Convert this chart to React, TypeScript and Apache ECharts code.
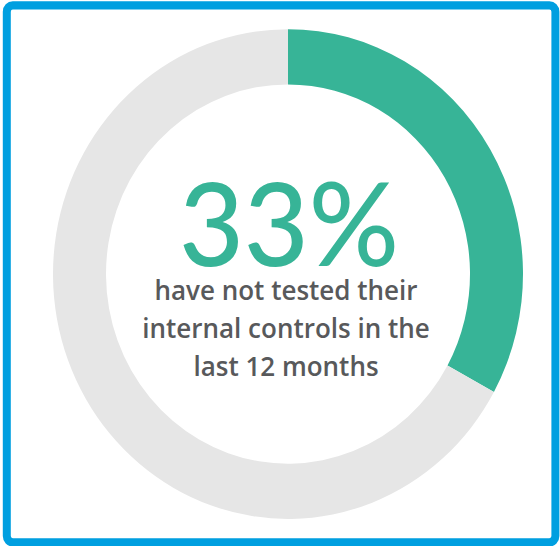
import React, { useEffect, useRef } from "react";
import * as echarts from "echarts";

const categories = ["Not tested in last 12 months", "Tested"];
const values = [33, 67];
const colors = ["#37B497", "#E6E6E6"];
const headline = "33%";
const captionLines = ["have not tested their", "internal controls in the", "last 12 months"];

const W = 560;
const H = 524;
const SCALE_Y = 546 / H;

export default function App() {
  const ref = useRef<HTMLDivElement>(null);
  useEffect(() => {
    if (!ref.current) return;
    const chart = echarts.init(ref.current, undefined, { renderer: "svg" });
    chart.setOption({
      animation: false,
      backgroundColor: "#ffffff",
      series: [
        {
          type: "pie",
          center: [288, 263],
          radius: [182, 235],
          startAngle: 90,
          clockwise: true,
          silent: true,
          label: { show: false },
          labelLine: { show: false },
          emphasis: { disabled: true },
          data: categories.map((c, i) => ({
            name: c,
            value: values[i],
            itemStyle: { color: colors[i] },
          })),
        },
      ],
      graphic: [
        {
          type: "rect",
          shape: { x: 6.8, y: 5.2, width: 548.6, height: 515.3, r: 6 },
          style: { fill: "none", stroke: "#009FE0", lineWidth: 8 },
          silent: true,
        },
        {
          type: "text",
          x: 289,
          y: 212,
          style: {
            text: headline,
            fill: "#37B497",
            font: "500 112px Lato, 'Open Sans', sans-serif",
            lineHeight: 88,
            align: "center",
            verticalAlign: "middle",
          },
          silent: true,
        },
        ...captionLines.map((t, i) => ({
          type: "text",
          x: 286,
          y: 278 + i * 36.5,
          style: {
            text: t,
            fill: "#58595B",
            font: "600 26px 'Open Sans', Lato, sans-serif",
            lineHeight: 27,
            align: "center",
            verticalAlign: "middle",
          },
          silent: true,
        })),
      ],
    });
    return () => chart.dispose();
  }, []);
  return (
    <div
      style={{
        position: "absolute",
        left: 0,
        top: 0,
        width: W,
        height: H,
        transform: `scaleY(${SCALE_Y})`,
        transformOrigin: "0 0",
        background: "#fff",
      }}
    >
      <div ref={ref} style={{ width: W, height: H }} />
    </div>
  );
}
